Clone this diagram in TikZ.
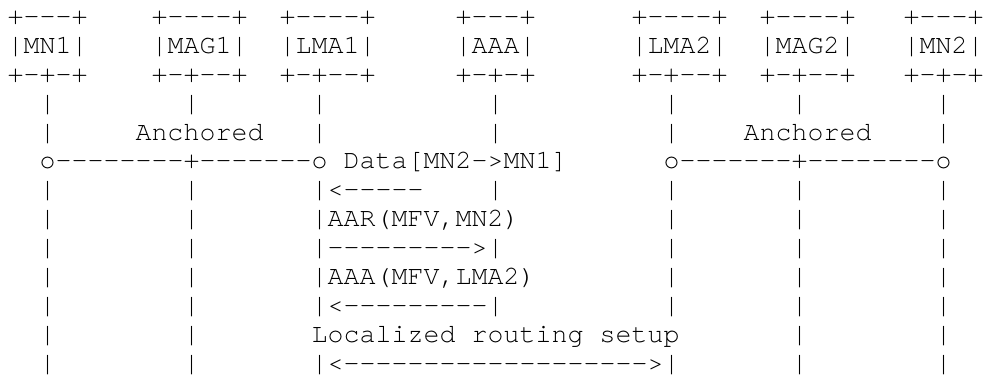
\documentclass[tikz,border=0pt]{standalone}
\usepackage{fontspec}
\usetikzlibrary{positioning}

% Courier-style typewriter face for the character grid
\newfontfamily\gridfont[Extension=.otf]{texgyrecursor-regular}

% Fixed-pitch character grid: every character sits in a cell of \cellw.
\newlength\cellw
\setlength\cellw{16pt}
\makeatletter
\def\grid@stop{\grid@stop@@}
\newcommand\gridline[1]{\grid@loop#1\grid@stop}
\def\grid@loop#1{%
  \ifx#1\grid@stop
  \else
    \makebox[\cellw][c]{#1}\expandafter\grid@loop
  \fi}
\makeatother

\tikzset{
  asciirow/.style={anchor=base west, inner sep=0pt, outer sep=0pt,
    text=black, font=\gridfont\fontsize{26.6}{28.9}\selectfont},
}

\begin{document}
\begin{tikzpicture}[x=1pt,y=1pt]
\useasboundingbox[fill=white] (0,0) rectangle (985,-379);

\def\xo{7.5}
\def\yo{24.5}
\def\pitch{28.9}

\node[asciirow] (r1)  at (\xo,{-\yo-0*\pitch})  {\gridline{+---+~~~~+----+~~+----+~~~~~+---+~~~~~~+----+~~+----+~~~+---+}};
\node[asciirow] (r2)  at (\xo,{-\yo-1*\pitch})  {\gridline{|MN1|~~~~|MAG1|~~|LMA1|~~~~~|AAA|~~~~~~|LMA2|~~|MAG2|~~~|MN2|}};
\node[asciirow] (r3)  at (\xo,{-\yo-2*\pitch})  {\gridline{+-+-+~~~~+-+--+~~+-+--+~~~~~+-+-+~~~~~~+-+--+~~+-+--+~~~+-+-+}};
\node[asciirow] (r4)  at (\xo,{-\yo-3*\pitch})  {\gridline{~~|~~~~~~~~|~~~~~~~|~~~~~~~~~~|~~~~~~~~~~|~~~~~~~|~~~~~~~~|}};
\node[asciirow] (r5)  at (\xo,{-\yo-4*\pitch})  {\gridline{~~|~~~~~Anchored~~~|~~~~~~~~~~|~~~~~~~~~~|~~~~Anchored~~~~|}};
\node[asciirow] (r6)  at (\xo,{-\yo-5*\pitch})  {\gridline{~~o--------+-------o~Data[MN2->MN1]~~~~~~o-------+--------o}};
\node[asciirow] (r7)  at (\xo,{-\yo-6*\pitch})  {\gridline{~~|~~~~~~~~|~~~~~~~|<-----~~~~|~~~~~~~~~~|~~~~~~~|~~~~~~~~|}};
\node[asciirow] (r8)  at (\xo,{-\yo-7*\pitch})  {\gridline{~~|~~~~~~~~|~~~~~~~|AAR(MFV,MN2)~~~~~~~~~|~~~~~~~|~~~~~~~~|}};
\node[asciirow] (r9)  at (\xo,{-\yo-8*\pitch})  {\gridline{~~|~~~~~~~~|~~~~~~~|--------->|~~~~~~~~~~|~~~~~~~|~~~~~~~~|}};
\node[asciirow] (r10) at (\xo,{-\yo-9*\pitch})  {\gridline{~~|~~~~~~~~|~~~~~~~|AAA(MFV,LMA2)~~~~~~~~|~~~~~~~|~~~~~~~~|}};
\node[asciirow] (r11) at (\xo,{-\yo-10*\pitch}) {\gridline{~~|~~~~~~~~|~~~~~~~|<---------|~~~~~~~~~~|~~~~~~~|~~~~~~~~|}};
\node[asciirow] (r12) at (\xo,{-\yo-11*\pitch}) {\gridline{~~|~~~~~~~~|~~~~~~~Localized~routing~setup~~~~~~~|~~~~~~~~|}};
\node[asciirow] (r13) at (\xo,{-\yo-12*\pitch}) {\gridline{~~|~~~~~~~~|~~~~~~~|<------------------->|~~~~~~~|~~~~~~~~|}};
\end{tikzpicture}
\end{document}
